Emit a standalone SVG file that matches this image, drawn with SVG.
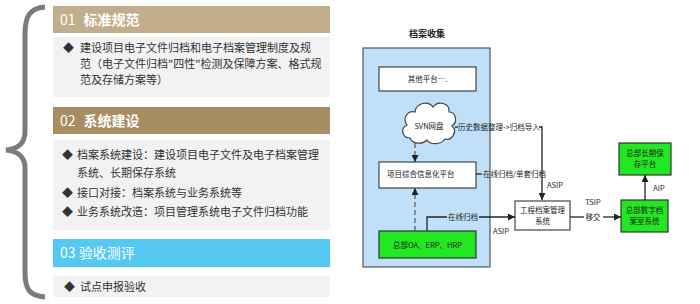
<svg xmlns="http://www.w3.org/2000/svg" width="700" height="304" viewBox="0 0 700 304">
<style>
text{font-family:"Noto Sans CJK SC","Liberation Sans",sans-serif;}
.hd{fill:#fff;font-size:14px;}
.ct{fill:#333;font-size:11px;}
.sm{fill:#222;font-size:7.5px;}
.box{fill:#fff;stroke:#444;stroke-width:1.2;}
.grn{fill:#22e822;stroke:#333;stroke-width:1.2;}
.ln{fill:none;stroke:#222;stroke-width:1.3;}
.dash{fill:none;stroke:#555;stroke-width:1.2;stroke-dasharray:5 3;}
.panel{fill:#f2f2f2;}
</style>
<defs>
<marker id="ah" viewBox="0 0 10 10" refX="10" refY="5" markerWidth="7" markerHeight="7" markerUnits="userSpaceOnUse" orient="auto">
<path d="M0,0 L10,5 L0,10 Z" fill="#222"/>
</marker>
</defs>
<rect width="700" height="304" fill="#fff"/>

<g id="brace">
<path d="M45,7 C30,8 25,16 25,34 L25,132 C25,143 18,149 6,150 C18,151 25,157 25,168 L25,272 C25,290 30,296 45,297" fill="none" stroke="#7b7b7b" stroke-width="5"/>
</g>

<g id="sec01">
<rect x="53" y="6" width="277" height="27" fill="#c2ae8c"/>
<text class="hd" x="60" y="25"><tspan>01</tspan><tspan dx="8" font-weight="bold">标准规范</tspan></text>
<rect class="panel" x="53" y="37" width="277" height="60"/>
<text class="ct" x="63" y="52">◆</text>
<text class="ct" x="80" y="52">建设项目电子文件归档和电子档案管理制度及规</text>
<text class="ct" x="80" y="68">范（电子文件归档"四性"检测及保障方案、格式规</text>
<text class="ct" x="80" y="84">范及存储方案等）</text>
</g>

<g id="sec02">
<rect x="53" y="107" width="277" height="27" fill="#a88c62"/>
<text class="hd" x="60" y="126"><tspan>02</tspan><tspan dx="8" font-weight="bold">系统建设</tspan></text>
<rect class="panel" x="53" y="140" width="277" height="90"/>
<text class="ct" x="62" y="159">◆</text>
<text class="ct" x="77" y="159">档案系统建设：建设项目电子文件及电子档案管理</text>
<text class="ct" x="77" y="177">系统、长期保存系统</text>
<text class="ct" x="62" y="197">◆</text>
<text class="ct" x="77" y="197">接口对接：档案系统与业务系统等</text>
<text class="ct" x="62" y="216">◆</text>
<text class="ct" x="77" y="216">业务系统改造：项目管理系统电子文件归档功能</text>
</g>

<g id="sec03">
<rect x="53" y="239" width="277" height="28" fill="#55c9f2"/>
<text class="hd" x="60" y="258">03 验收测评</text>
<rect class="panel" x="53" y="276" width="277" height="21"/>
<text class="ct" x="64" y="291">◆</text>
<text class="ct" x="80" y="291">试点申报验收</text>
</g>

<g id="collect">
<text x="427" y="37" text-anchor="middle" font-size="9" font-weight="bold" fill="#222">档案收集</text>
<rect x="363" y="48" width="127" height="219" fill="#bfe0f8" stroke="#555" stroke-width="1.2"/>
</g>

<g id="other">
<rect class="box" x="379" y="67" width="97" height="24"/>
<text class="sm" x="427.5" y="82" text-anchor="middle">其他平台….</text>
</g>

<g id="svn">
<path d="M410,138 C402,138 400,128 407,125 C402,118 408,110 415,112 C416,103 428,100 433,107 C438,100 450,103 449,112 C456,112 458,122 452,126 C458,131 452,141 445,139 C441,145 430,145 427,140 C422,145 412,144 410,138 Z" fill="#fff" stroke="#444" stroke-width="1.2"/>
<text class="sm" x="429" y="129" text-anchor="middle">SVN网盘</text>
</g>

<g id="proj">
<rect class="box" x="379" y="162" width="97" height="26"/>
<text class="sm" x="387" y="177">项目综合信息化平台</text>
</g>

<g id="oa">
<rect class="grn" x="379" y="231" width="97" height="27"/>
<text class="sm" x="427.5" y="247.5" text-anchor="middle">总部OA、ERP、HRP</text>
</g>

<g id="eng">
<rect class="box" x="515" y="201" width="55" height="29"/>
<text class="sm" x="542.5" y="213" text-anchor="middle">工程档案管理</text>
<text class="sm" x="542.5" y="224" text-anchor="middle">系统</text>
</g>

<g id="digital">
<rect class="grn" x="621" y="200" width="47" height="32"/>
<text class="sm" x="644.5" y="213" text-anchor="middle">总部数字档</text>
<text class="sm" x="644.5" y="224" text-anchor="middle">案室系统</text>
</g>

<g id="longterm">
<rect class="grn" x="619" y="143" width="52" height="32"/>
<text class="sm" x="645" y="156" text-anchor="middle">总部长期保</text>
<text class="sm" x="645" y="167" text-anchor="middle">存平台</text>
</g>

<g id="connectors">
<path class="dash" d="M415,143 L415,162" marker-end="url(#ah)"/>
<path class="dash" d="M415,231 L415,188" marker-end="url(#ah)"/>
<path class="ln" d="M455,127 L458,127"/>
<path class="ln" d="M539,127 L542,127 L542,200" marker-end="url(#ah)"/>
<text class="sm" x="458" y="130">历史数据整理-&gt;归档导入</text>
<path class="ln" d="M476,174 L482,174"/>
<text class="sm" x="483" y="177">在线归档/单套归档</text>
<text class="sm" x="547" y="188">ASIP</text>
<path class="ln" d="M427,231 L427,217 L447,217"/>
<path class="ln" d="M479,217 L515,217" marker-end="url(#ah)"/>
<text class="sm" x="463" y="220" text-anchor="middle">在线归档</text>
<text class="sm" x="501" y="234" text-anchor="middle">ASIP</text>
<path class="ln" d="M570,217 L584,217"/>
<path class="ln" d="M603,217 L621,217" marker-end="url(#ah)"/>
<text class="sm" x="593" y="205" text-anchor="middle">TSIP</text>
<text class="sm" x="593" y="220" text-anchor="middle">移交</text>
<path class="ln" d="M645,200 L645,175" marker-end="url(#ah)"/>
<text class="sm" x="659" y="191" text-anchor="middle">AIP</text>
</g>
</svg>
